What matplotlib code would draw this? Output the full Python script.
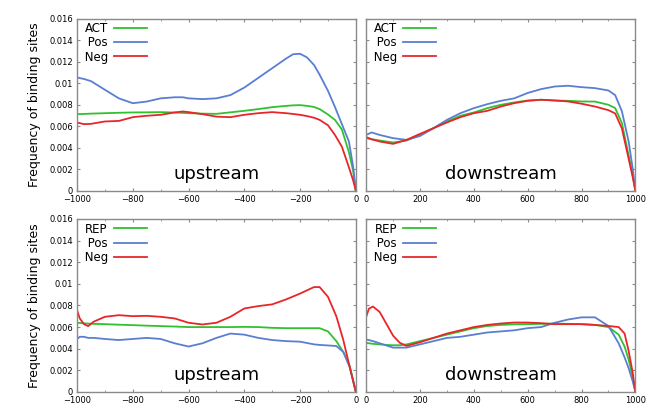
import matplotlib
matplotlib.use("Agg")
from matplotlib import pyplot as plt
from matplotlib.ticker import FuncFormatter, MultipleLocator

# upstream, ACT panel
up_act_x = [-1000, -975, -950, -900, -850, -800, -750, -700, -650, -620, -600, -550, -500,
            -450, -400, -350, -300, -250, -225, -200, -175, -150, -130, -100, -75, -50, -25, -10, 0]
up_act_pos = [0.01054, 0.0104, 0.0102, 0.0094, 0.0086, 0.00815, 0.0083, 0.0086, 0.0087, 0.0087,
              0.0086, 0.00853, 0.0086, 0.0089, 0.0096, 0.0105, 0.0114, 0.0123, 0.0127, 0.01274,
              0.0124, 0.0117, 0.0108, 0.0093, 0.0078, 0.0062, 0.0046, 0.0023, 0.0]
up_act_act = [0.00713, 0.00715, 0.00718, 0.00722, 0.00726, 0.00729, 0.0073, 0.00732, 0.00728, 0.00725,
              0.00722, 0.00718, 0.00716, 0.0073, 0.00744, 0.0076, 0.00778, 0.0079, 0.00795, 0.00797,
              0.0079, 0.0078, 0.0076, 0.0071, 0.0066, 0.0057, 0.0036, 0.0019, 0.0]
up_act_neg = [0.00636, 0.0062, 0.00623, 0.00645, 0.0065, 0.00685, 0.00698, 0.00707, 0.00729, 0.00738,
              0.00732, 0.00713, 0.0069, 0.00685, 0.00707, 0.00722, 0.00732, 0.00722, 0.00715, 0.00707,
              0.00695, 0.0068, 0.0066, 0.0061, 0.0052, 0.0041, 0.0022, 0.0010, 0.0]

# downstream, ACT panel
down_act_x = [0, 20, 50, 100, 150, 200, 250, 300, 350, 400, 450, 500, 550, 600, 650, 700,
              750, 800, 850, 900, 925, 950, 975, 990, 1000]
down_act_pos = [0.0052, 0.00543, 0.0052, 0.0049, 0.00474, 0.0051, 0.00583, 0.0066, 0.00722, 0.00769,
                0.00806, 0.00837, 0.0086, 0.0091, 0.00946, 0.0097, 0.00977, 0.00964, 0.00955, 0.00933,
                0.0089, 0.0074, 0.0046, 0.0021, 0.0]
down_act_act = [0.0049, 0.0048, 0.00468, 0.0045, 0.00468, 0.0052, 0.00583, 0.00645, 0.00698, 0.00729,
                0.00769, 0.008, 0.00822, 0.0084, 0.00847, 0.0084, 0.00837, 0.00831, 0.0083, 0.0080,
                0.0077, 0.0063, 0.0033, 0.0015, 0.0]
down_act_neg = [0.005, 0.0048, 0.00459, 0.00437, 0.00474, 0.0053, 0.00583, 0.00636, 0.00685, 0.00722,
                0.00744, 0.00784, 0.00815, 0.00837, 0.00847, 0.0084, 0.00831, 0.0081, 0.00784, 0.0075,
                0.0072, 0.0058, 0.0030, 0.0013, 0.0]

# upstream, REP panel
up_rep_x = [-1000, -990, -975, -960, -940, -900, -850, -800, -750, -700, -650, -600, -550, -500,
            -450, -400, -350, -300, -250, -200, -150, -130, -100, -70, -45, -22, 0]
up_rep_pos = [0.0049, 0.0051, 0.0051, 0.0050, 0.0050, 0.0049, 0.0048, 0.0049, 0.0050, 0.0049,
              0.0045, 0.0042, 0.0045, 0.0050, 0.0054, 0.0053, 0.0050, 0.0048, 0.0047, 0.00465,
              0.0044, 0.00435, 0.0043, 0.00425, 0.0037, 0.0023, 0.0]
up_rep_rep = [0.0064, 0.00638, 0.00635, 0.00632, 0.0063, 0.00627, 0.00622, 0.00618, 0.00613, 0.00609,
              0.00605, 0.006, 0.006, 0.006, 0.006, 0.00602, 0.006, 0.00593, 0.0059, 0.0059,
              0.0059, 0.0059, 0.0056, 0.0047, 0.0037, 0.0024, 0.0]
up_rep_neg = [0.00757, 0.0068, 0.00627, 0.00609, 0.0065, 0.00695, 0.0071, 0.00701, 0.00704, 0.00695,
              0.0068, 0.0064, 0.00624, 0.0064, 0.00695, 0.00772, 0.00794, 0.0081, 0.00856, 0.0091,
              0.0097, 0.0097, 0.0088, 0.0070, 0.0048, 0.0023, 0.0]

# downstream, REP panel
down_rep_x = [0, 10, 25, 50, 75, 100, 125, 150, 200, 250, 300, 350, 400, 450, 500, 550, 600, 650,
              700, 750, 800, 850, 900, 938, 960, 975, 990, 1000]
down_rep_pos = [0.00485, 0.0048, 0.0047, 0.0045, 0.0043, 0.0041, 0.0041, 0.0041, 0.0044, 0.0047,
                0.005, 0.0051, 0.0053, 0.0055, 0.0056, 0.0057, 0.0059, 0.006, 0.0064, 0.0067,
                0.0069, 0.0069, 0.0061, 0.0045, 0.0032, 0.0022, 0.0010, 0.0]
down_rep_rep = [0.00454, 0.0045, 0.00445, 0.0044, 0.00435, 0.00432, 0.00432, 0.0044, 0.0047, 0.005,
                0.0053, 0.0056, 0.0059, 0.0061, 0.0062, 0.00625, 0.00627, 0.0063, 0.00633, 0.0063,
                0.00627, 0.0062, 0.006, 0.0053, 0.0042, 0.0030, 0.0014, 0.0]
down_rep_neg = [0.00695, 0.0077, 0.0079, 0.0074, 0.0063, 0.0052, 0.00454, 0.00426, 0.0046, 0.005,
                0.0054, 0.0057, 0.006, 0.0062, 0.00633, 0.00642, 0.00642, 0.00636, 0.00627, 0.00627,
                0.00627, 0.0062, 0.0061, 0.0060, 0.0054, 0.0038, 0.0018, 0.0]

GREEN = "#2fc22f"
BLUE = "#5a7fd0"
RED = "#e8262a"
FRAME = "#8a8a8a"

fig = plt.figure(figsize=(6.47, 4.07), dpi=100)
fig.patch.set_facecolor("white")

# right column pulled in a bit so the "1000" label stays inside the figure
boxes = [[0.119, 0.531, 0.431, 0.423], [0.566, 0.531, 0.416, 0.423],
         [0.119, 0.037, 0.431, 0.425], [0.566, 0.037, 0.416, 0.425]]

panels = [
    (up_act_x, "ACT", up_act_act, up_act_pos, up_act_neg, "upstream", (-1000, 0)),
    (down_act_x, "ACT", down_act_act, down_act_pos, down_act_neg, "downstream", (0, 1000)),
    (up_rep_x, "REP", up_rep_rep, up_rep_pos, up_rep_neg, "upstream", (-1000, 0)),
    (down_rep_x, "REP", down_rep_rep, down_rep_pos, down_rep_neg, "downstream", (0, 1000)),
]

for i, (x, name, g, b, r, word, xl) in enumerate(panels):
    ax = fig.add_axes(boxes[i])
    ax.plot(x, g, color=GREEN, lw=1.3, label=name)
    ax.plot(x, b, color=BLUE, lw=1.3, label=" Pos")
    ax.plot(x, r, color=RED, lw=1.3, label=" Neg")
    ax.set_xlim(*xl)
    ax.set_ylim(0, 0.016)
    ax.xaxis.set_major_locator(MultipleLocator(200))
    ax.xaxis.set_minor_locator(MultipleLocator(100))
    ax.yaxis.set_major_locator(MultipleLocator(0.002))
    ax.tick_params(which="both", direction="in", top=True, right=True,
                   color=FRAME, labelsize=6, pad=3, length=2.5)
    ax.tick_params(which="minor", length=1.5)
    for s in ax.spines.values():
        s.set_color(FRAME)
        s.set_linewidth(1.0)
    if i % 2 == 0:
        ax.yaxis.set_major_formatter(FuncFormatter(lambda v, p: "0" if v == 0 else "%g" % v))
        ax.set_ylabel("Frequency of binding sites", fontsize=9, labelpad=6)
    else:
        ax.set_yticklabels([])
    ax.text(0.5, 0.1, word, transform=ax.transAxes, ha="center", va="center", fontsize=13)
    ax.legend(loc="upper left", frameon=False, markerfirst=False, fontsize=8.5,
              handlelength=2.8, handletextpad=0.5, labelspacing=0.1,
              borderaxespad=0.1, borderpad=0.2)

fig.savefig("out.png", dpi=100)
